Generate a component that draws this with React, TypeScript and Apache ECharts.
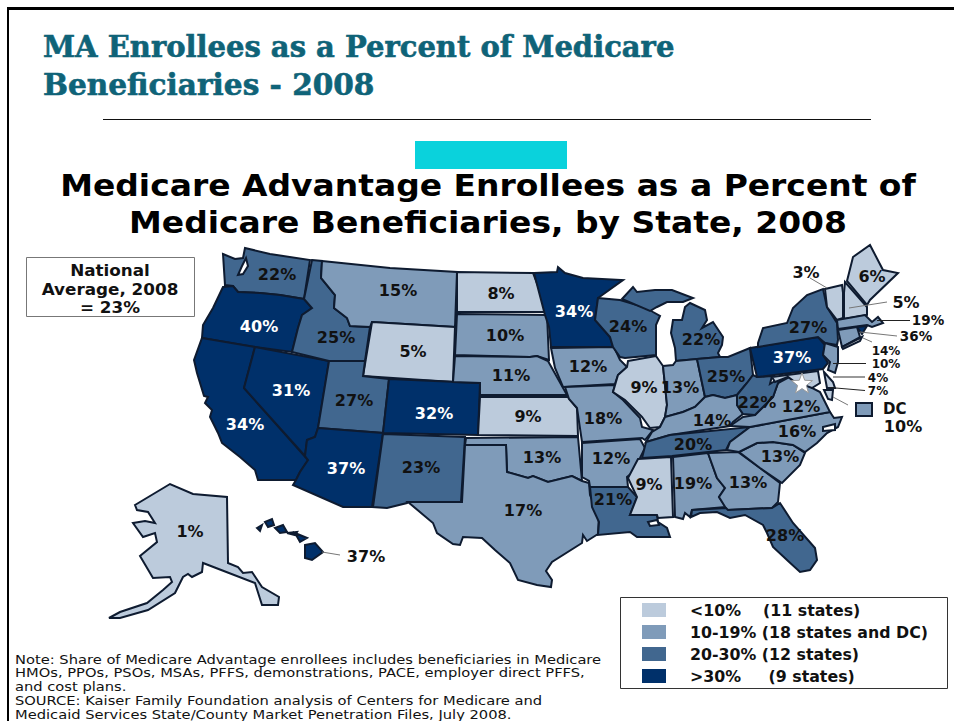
import React, { useEffect, useRef } from "react";
import * as echarts from "echarts";

const slideTitle = ["MA Enrollees as a Percent of Medicare", "Beneficiaries - 2008"];
const chartTitle = ["Medicare Advantage Enrollees as a Percent of", "Medicare Beneficiaries, by State, 2008"];
const nationalAverage = ["National", "Average, 2008", "= 23%"];
const noteLines = [
  "Note: Share of Medicare Advantage enrollees includes beneficiaries in Medicare",
  "HMOs, PPOs, PSOs, MSAs, PFFS, demonstrations, PACE, employer direct PFFS,",
  "and cost plans.",
  "SOURCE: Kaiser Family Foundation analysis of Centers for Medicare and",
  "Medicaid Services State/County Market Penetration Files, July 2008.",
];

const stateNames = ["WA","OR","CA","NV","ID","MT","WY","UT","CO","AZ","NM","ND","SD","NE","KS","OK","TX","MN","IA","MO","AR","LA","WI","IL","MI","IN","OH","KY","TN","MS","AL","GA","SC","NC","VA","WV","FL","PA","NY","ME","VT","NH","MA","RI","CT","NJ","DE","MD","AK","HI","DC"];
const stateValues = [22,40,34,31,25,15,5,27,32,37,23,8,10,11,9,13,17,34,12,18,12,21,24,9,22,13,25,14,20,9,19,13,13,16,12,22,28,37,27,6,3,5,19,36,14,10,4,7,1,37,10];
const outsideLabels = ["RI", "HI"];
const stackedLabels = ["CT", "NJ", "DE", "MD"];
const closeLabels = ["MA", "RI"];

const legendLabels = ["<10%    (11 states)", "10-19% (18 states and DC)", "20-30% (12 states)", ">30%     (9 states)"];
const legendColors = ["#BCCBDC", "#7F9BB9", "#41678F", "#00306A"];

type Pt = [number, number];
// State outlines, in picture pixels
const outlines: Record<string, Pt[][]> = {
  WA: [[[223,254],[235,259],[243,258],[245,248],[270,254],[310,260],[304,299],[280,295],[260,293],[238,292],[233,286],[225,285]]],
  OR: [[[223,287],[233,286],[238,292],[260,293],[280,295],[304,299],[312,308],[302,315],[298,328],[292,352],[255,347],[202,338],[203,325],[213,308]]],
  CA: [[[202,338],[255,347],[244,388],[308,460],[300,472],[296,480],[258,480],[255,470],[240,457],[222,443],[218,433],[210,417],[212,410],[205,403],[208,397],[204,396],[197,373],[194,360]]],
  NV: [[[255,347],[329,361],[318,428],[315,437],[307,440],[305,456],[244,388]]],
  ID: [[[312,260],[322,261],[321,278],[335,295],[334,308],[347,318],[350,326],[370,327],[365,361],[329,361],[292,352],[298,328],[302,315],[312,308],[304,299]]],
  MT: [[[322,261],[390,268],[457,272],[455,327],[372,322],[370,327],[350,326],[347,318],[334,308],[335,295],[321,278]]],
  WY: [[[372,322],[455,327],[453,382],[363,376]]],
  UT: [[[329,361],[365,361],[363,376],[389,379],[383,433],[318,428]]],
  CO: [[[389,379],[480,383],[478,435],[383,433]]],
  AZ: [[[318,428],[383,433],[372,507],[343,507],[293,485],[296,480],[300,472],[308,460],[305,456],[307,440],[315,437]]],
  NM: [[[383,434],[465,437],[461,502],[408,502],[407,503],[387,508],[373,507]]],
  ND: [[[457,272],[533,273],[548,312],[457,312]]],
  SD: [[[457,314],[547,315],[549,360],[537,356],[530,357],[455,355]]],
  NE: [[[455,356],[530,357],[537,356],[548,361],[567,395],[480,395],[480,383],[453,382]]],
  KS: [[[480,397],[568,397],[577,408],[578,436],[478,435]]],
  OK: [[[466,438],[578,437],[582,481],[572,476],[548,482],[533,476],[528,478],[507,472],[506,445],[465,445]]],
  TX: [[[465,445],[506,445],[507,472],[528,478],[533,476],[548,482],[572,476],[582,481],[589,483],[590,495],[599,515],[598,534],[587,541],[583,535],[582,543],[552,562],[546,571],[552,580],[551,587],[537,585],[518,580],[510,563],[495,550],[482,538],[463,537],[460,545],[453,544],[437,533],[433,523],[408,502],[462,502]]],
  MN: [[[534,273],[557,272],[558,267],[565,273],[583,278],[623,280],[598,298],[595,320],[610,337],[613,347],[551,347],[549,327],[545,315]]],
  IA: [[[551,348],[614,347],[620,360],[627,367],[618,375],[615,384],[563,387],[555,368]]],
  MO: [[[565,387],[615,385],[613,392],[623,400],[640,418],[642,427],[653,430],[645,440],[642,438],[582,442],[577,408],[569,399]]],
  AR: [[[582,443],[640,439],[645,448],[640,458],[632,473],[627,477],[628,487],[590,487],[589,481],[582,477]]],
  LA: [[[590,487],[628,487],[637,497],[630,515],[657,515],[658,522],[667,528],[670,537],[653,537],[637,537],[630,532],[598,535],[599,522],[592,507]]],
  WI: [[[598,298],[620,300],[647,308],[653,312],[660,316],[656,325],[656,355],[625,358],[620,357],[613,347],[610,337],[595,320]]],
  IL: [[[628,361],[656,356],[663,366],[667,405],[665,417],[660,427],[650,428],[642,417],[625,400],[613,392],[618,375],[627,367]]],
  MI: [
    [[622,299],[633,287],[637,292],[655,290],[672,290],[693,298],[683,302],[667,302],[657,307],[650,311]],
    [[690,303],[705,310],[707,320],[702,328],[713,322],[723,337],[722,345],[718,353],[720,357],[697,359],[676,361],[675,348],[671,333],[673,320],[682,320],[685,307]],
  ],
  IN: [[[663,366],[673,365],[676,361],[697,359],[705,397],[695,407],[683,412],[665,417],[667,405]]],
  OH: [[[697,359],[720,357],[728,357],[750,348],[753,375],[747,383],[737,395],[725,398],[713,395],[705,397]]],
  KY: [[[646,442],[652,432],[660,427],[665,417],[683,412],[695,407],[705,397],[713,395],[725,398],[737,395],[737,405],[743,414],[733,422],[730,426],[670,435]]],
  TN: [[[642,458],[646,442],[670,435],[750,427],[730,442],[726,450],[708,452],[672,456]]],
  MS: [[[638,459],[671,457],[673,517],[658,518],[657,515],[630,515],[637,497],[628,478]]],
  AL: [[[673,457],[708,453],[717,478],[725,488],[719,497],[726,507],[692,510],[690,517],[685,513],[683,519],[675,517]]],
  GA: [[[708,453],[738,452],[760,468],[780,483],[778,502],[772,508],[727,510],[719,497],[725,488],[717,478]]],
  SC: [[[739,452],[757,443],[773,442],[793,445],[805,453],[800,465],[782,483],[760,468]]],
  NC: [[[727,450],[730,442],[750,427],[830,412],[834,418],[842,417],[838,427],[827,433],[817,443],[805,452],[793,445],[773,442],[757,443],[739,452]]],
  VA: [[[730,426],[743,417],[755,415],[773,397],[778,383],[793,375],[812,388],[820,392],[825,402],[830,412],[750,427]]],
  WV: [[[737,395],[747,383],[753,375],[757,377],[772,376],[770,384],[780,378],[788,374],[778,383],[773,397],[755,415],[743,414],[737,405]]],
  FL: [[[692,510],[726,508],[728,510],[772,508],[780,503],[793,523],[815,548],[817,560],[810,570],[800,572],[787,560],[773,547],[767,533],[763,525],[745,515],[730,518],[717,512],[700,513],[691,517]]],
  PA: [[[750,348],[818,337],[825,345],[823,355],[828,363],[823,369],[757,377]]],
  NY: [[[758,343],[763,328],[787,323],[793,308],[807,295],[823,289],[827,307],[837,323],[838,340],[837,345],[825,343],[818,337],[758,347]]],
  ME: [[[847,281],[853,257],[870,245],[883,270],[898,273],[870,300],[867,305]]],
  VT: [[[825,289],[842,285],[843,293],[843,318],[837,320],[827,307]]],
  NH: [[[845,282],[867,307],[867,315],[844,319],[844,293]]],
  MA: [[[837,320],[865,315],[872,322],[878,317],[883,323],[872,327],[867,325],[838,329]]],
  RI: [[[857,327],[867,326],[862,334]]],
  CT: [[[838,330],[857,327],[860,337],[842,347]]],
  NJ: [[[825,343],[838,347],[838,362],[835,373],[828,370],[830,362],[823,355]]],
  DE: [[[824,372],[833,382],[835,388],[827,388]]],
  MD: [
    [[772,377],[818,371],[820,383],[812,388],[795,382],[788,377],[775,382]],
    [[824,390],[833,390],[832,400],[828,399]],
  ],
  AK: [[[135,505],[170,484],[193,494],[227,497],[228,563],[238,567],[243,573],[252,572],[262,587],[279,597],[278,605],[262,605],[255,583],[203,563],[202,572],[192,577],[188,574],[183,577],[175,593],[148,610],[120,618],[109,618],[120,612],[147,603],[163,590],[172,582],[170,577],[153,578],[140,556],[157,542],[155,533],[143,537],[133,523],[145,521],[155,523],[148,512],[137,510]]],
  HI: [
    [[305,545],[315,543],[323,552],[312,560],[305,558]],
    [[295,533],[307,538],[300,542]],
    [[287,533],[297,532],[295,535]],
    [[275,528],[283,525],[287,532],[280,533]],
    [[265,522],[272,519],[274,525],[268,527]],
    [[257,528],[262,525],[260,531]],
  ],
  DC: [[[856,403],[872,403],[872,416],[856,416]]],
};
// Water bodies and islands outlined in the reference, with no value
const waterShapes: Pt[][] = [
  [[842,347],[862,337],[860,341],[843,349]],
  [[823,427],[835,424],[835,430],[823,431]],
  [[648,522],[657,520],[659,525],[650,526]],
  [[246,258],[248,266],[243,274],[238,275],[242,266]],
];
// Where each state's label sits
const labelAt: Record<string, Pt> = {
  WA:[277,274],OR:[259,326],CA:[245,424],NV:[291,390],ID:[336,337],MT:[398,290],WY:[413,351],UT:[354,400],CO:[434,413],AZ:[346,468],NM:[421,467],ND:[501,293],SD:[505,335],NE:[511,375],KS:[528,416],OK:[542,457],TX:[523,510],MN:[574,311],IA:[588,366],MO:[603,418],AR:[611,458],LA:[613,499],WI:[628,326],IL:[644,387],MI:[701,339],IN:[680,387],OH:[726,376],KY:[712,420],TN:[693,444],MS:[649,484],AL:[693,483],GA:[748,482],SC:[780,456],NC:[797,431],VA:[801,406],WV:[757,402],FL:[785,535],PA:[792,357],NY:[808,327],ME:[872,276],VT:[806,272],NH:[906,302],MA:[928,319.5],RI:[916,336],CT:[886,350.5],NJ:[886,364],DE:[878,377.5],MD:[878,391],AK:[190,531],HI:[366,556],DC:[903,426],
};
const leaders: { from: Pt; to: Pt; color: string; width: number }[] = [
  { from: [810,278], to: [827,288], color: "#777", width: 1 },
  { from: [887,302], to: [849,308], color: "#777", width: 1 },
  { from: [910,320.5], to: [877,320.5], color: "#222", width: 1 },
  { from: [897,336], to: [860,332], color: "#777", width: 1 },
  { from: [872,342], to: [863,338], color: "#777", width: 1 },
  { from: [866,363.5], to: [833,363.5], color: "#222", width: 1 },
  { from: [865,377], to: [833,377], color: "#999", width: 2 },
  { from: [865,390.5], to: [830,387.5], color: "#222", width: 1 },
  { from: [848,405], to: [833,397], color: "#777", width: 1 },
  { from: [340,555], to: [322,552], color: "#777", width: 1 },
];

const flip = (p: Pt): Pt => [p[0], -p[1]];
const geoJson = {
  type: "FeatureCollection",
  features: [
    ...Object.keys(outlines).map((name) => ({
      type: "Feature",
      properties: { name, cp: flip(labelAt[name]) },
      geometry: { type: "MultiPolygon", coordinates: outlines[name].map((ring) => [ring.map(flip)]) },
    })),
    ...waterShapes.map((ring, i) => ({
      type: "Feature",
      properties: { name: "water" + i },
      geometry: { type: "Polygon", coordinates: [ring.map(flip)] },
    })),
  ],
};

const starPoints = (cx: number, cy: number, r: number): Pt[] => {
  const out: Pt[] = [];
  for (let i = 0; i < 10; i++) {
    const a = -Math.PI / 2 + (i * Math.PI) / 5;
    const rr = i % 2 === 0 ? r : r * 0.42;
    out.push([cx + rr * Math.cos(a), cy + rr * Math.sin(a)]);
  }
  return out;
};

const SANS = "'DejaVu Sans', Verdana, sans-serif";
const SERIF = "'DejaVu Serif', serif";

export default function App() {
  const ref = useRef<HTMLDivElement>(null);
  useEffect(() => {
    document.body.style.margin = "0";
    echarts.registerMap("usStates", geoJson as any);
    const chart = echarts.init(ref.current!, undefined, { renderer: "svg" });
    const textEl = (text: string, x: number, y: number, font: string, fill: string, align = "left", scaleX = 1, extra: any = {}) => ({
      type: "text",
      x,
      y,
      scaleX,
      z: 10,
      silent: true,
      style: { text, font, fill, textAlign: align, textVerticalAlign: "middle", ...extra },
    });
    const graphic: any[] = [
      { type: "rect", shape: { x: 7, y: 7, width: 947, height: 3 }, style: { fill: "#000" }, silent: true },
      { type: "rect", shape: { x: 7, y: 7, width: 2, height: 714 }, style: { fill: "#000" }, silent: true },
      { type: "line", shape: { x1: 103, y1: 119.5, x2: 871, y2: 119.5 }, style: { stroke: "#111", lineWidth: 1 }, silent: true },
      { type: "rect", shape: { x: 415, y: 141, width: 152, height: 28 }, style: { fill: "#0AD2DC" }, silent: true },
      ...slideTitle.map((t, i) =>
        textEl(t, 43, 47 + i * 38, `bold 29px ${SERIF}`, "#0F6378", "left", i === 0 ? 1 : 1.02, { stroke: "#0F6378", lineWidth: 0.6 })
      ),
      ...chartTitle.map((t, i) => textEl(t, 488, 186 + i * 37, `bold 30px ${SANS}`, "#000", "center", 1.098)),
      { type: "rect", shape: { x: 26.5, y: 257.5, width: 168, height: 59 }, style: { fill: "#fff", stroke: "#777", lineWidth: 1 }, silent: true },
      ...nationalAverage.map((t, i) => textEl(t, 110, 271 + i * 18.5, `bold 15px ${SANS}`, "#111", "center", 1.12)),
      ...leaders.map((l) => ({
        type: "line", z: 5, silent: true,
        shape: { x1: l.from[0], y1: l.from[1], x2: l.to[0], y2: l.to[1] },
        style: { stroke: l.color, lineWidth: l.width },
      })),
      { type: "polygon", z: 6, silent: true, shape: { points: starPoints(802, 384, 11) }, style: { fill: "#fff", stroke: "#999", lineWidth: 1 } },
      textEl("DC", 883, 409, `bold 15px ${SANS}`, "#111"),
      { type: "rect", z: 0, shape: { x: 620.5, y: 597.5, width: 327, height: 91 }, style: { fill: "#fff", stroke: "#333", lineWidth: 1 }, silent: true },
      ...noteLines.map((t, i) => textEl(t, 15, 659 + i * 13.8, `13px ${SANS}`, "#111", "left", 1.13)),
    ];
    chart.setOption({
      animation: false,
      backgroundColor: "#fff",
      graphic,
      visualMap: {
        type: "piecewise",
        seriesIndex: 0,
        left: 642,
        top: 602,
        padding: 0,
        itemWidth: 24,
        itemHeight: 14,
        itemGap: 6,
        textGap: 24,
        itemSymbol: "rect",
        selectedMode: false,
        hoverLink: false,
        orient: "vertical",
        align: "left",
        inverse: true,
        textStyle: { fontFamily: SANS, fontWeight: "bold", fontSize: 15.8, color: "#111" },
        pieces: [
          { lt: 10, label: legendLabels[0], color: legendColors[0] },
          { gte: 10, lte: 19, label: legendLabels[1], color: legendColors[1] },
          { gt: 19, lte: 30, label: legendLabels[2], color: legendColors[2] },
          { gt: 30, label: legendLabels[3], color: legendColors[3] },
        ],
      },
      series: [
        {
          type: "map",
          map: "usStates",
          left: 0,
          top: 0,
          width: 954,
          height: 721,
          boundingCoords: [[0, 0], [954, -721]],
          aspectScale: 1,
          roam: false,
          silent: true,
          showLegendSymbol: false,
          itemStyle: { areaColor: "#fff", borderColor: "#0E1B30", borderWidth: 2 },
          label: {
            show: true,
            fontFamily: SANS,
            fontWeight: "bold",
            fontSize: 16,
            lineHeight: 12,
            color: "#111",
            formatter: (p: any) => (isNaN(p.value) ? "" : `${p.value}%`),
          },
          data: stateNames.map((name, i) => ({
            name,
            value: stateValues[i],
            label: {
              color: stateValues[i] > 30 && !outsideLabels.includes(name) ? "#fff" : "#111",
              ...(stackedLabels.includes(name) ? { fontSize: 12, lineHeight: 12 } : {}),
              ...(closeLabels.includes(name) ? { fontSize: 13.5, lineHeight: 12 } : {}),
            },
          })),
        },
      ],
    });
    return () => chart.dispose();
  }, []);
  return <div ref={ref} style={{ width: 954, height: 721 }} />;
}
